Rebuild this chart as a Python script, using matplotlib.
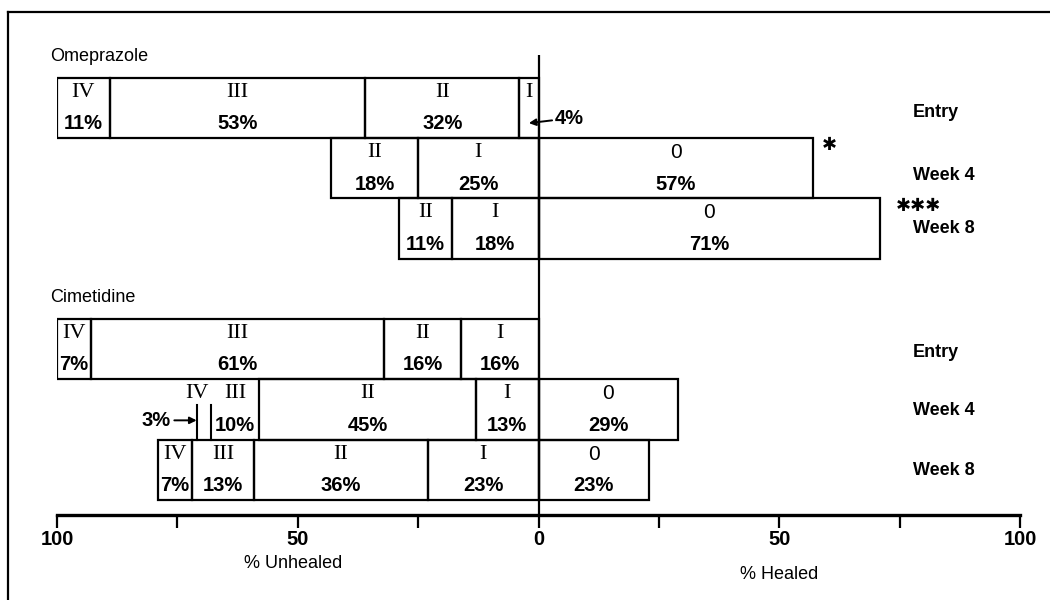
import matplotlib
matplotlib.use("Agg")
import matplotlib.pyplot as plt
from matplotlib.lines import Line2D

# grades of oesophagitis, worst to healed
grades = ["IV", "III", "II", "I", "0"]

# percent of patients per grade
ome_entry = [11, 53, 32, 4, 0]
ome_week4 = [0, 0, 18, 25, 57]
ome_week8 = [0, 0, 11, 18, 71]
cim_entry = [7, 61, 16, 16, 0]
cim_week4 = [3, 10, 45, 13, 29]
cim_week8 = [7, 13, 36, 23, 23]

visits = ["Entry", "Week 4", "Week 8"]
stars = {"Week 4": "\u2731", "Week 8": "\u2731\u2731\u2731"}

SANS = ["Liberation Sans", "DejaVu Sans"]
SERIF = ["Liberation Serif", "DejaVu Serif"]

fig = plt.figure(figsize=(10.5, 6), dpi=100)
ax = fig.add_axes([57 / 1050, 85 / 600, 963 / 1050, 460 / 600])
ax.set_xlim(-100, 100)
ax.set_ylim(6.75, -0.88)

groups = [
    ("Omeprazole", 0, [ome_entry, ome_week4, ome_week8]),
    ("Cimetidine", 4, [cim_entry, cim_week4, cim_week8]),
]
label_dy = {"Omeprazole": [0.07, 0.12, 0.0], "Cimetidine": [0.05, 0.02, 0.02]}

for name, start, rows in groups:
    ax.text(-101.5, start - 0.86, name, ha="left", va="center", fontsize=13,
            family=SANS, clip_on=False)
    for i, vals in enumerate(rows):
        row = start + i
        left = -sum(vals[:4])
        open_tail = name == "Cimetidine" and visits[i] == "Week 4"
        for g, v in zip(grades, vals):
            if v == 0:
                continue
            open_seg = open_tail and g in ("IV", "III")
            if open_seg:
                # only partial dividers in the original
                ax.plot([left, left], [row - 0.07, row + 0.5], color="black", lw=1.5)
            else:
                ax.barh(row, v, left=left, height=1, fill=False,
                        edgecolor="black", lw=1.6)
            cx = left + v / 2
            if open_tail and g == "IV":
                cx = left
            if g == "0":
                ax.text(cx, row - 0.26, g, ha="center", va="center", fontsize=15,
                        family=SANS)
            else:
                ax.text(cx, row - 0.26, g, ha="center", va="center", fontsize=16,
                        family=SERIF)
            pct = f"{v}%"
            if name == "Omeprazole" and visits[i] == "Entry" and g == "I":
                ax.annotate(pct, xy=(-2, row + 0.25), xytext=(3.4, row + 0.17),
                            ha="left", va="center", fontsize=14.5, fontweight="bold",
                            family=SANS,
                            arrowprops=dict(arrowstyle="-|>", color="black", lw=1.4,
                                            shrinkA=0, shrinkB=0, mutation_scale=10))
            elif open_tail and g == "IV":
                ax.annotate(pct, xy=(left, row + 0.18), xytext=(-76.5, row + 0.18),
                            ha="right", va="center", fontsize=14.5, fontweight="bold",
                            family=SANS,
                            arrowprops=dict(arrowstyle="-|>", color="black", lw=1.4,
                                            shrinkA=1, shrinkB=0, mutation_scale=10))
            else:
                ax.text(cx, row + 0.26, pct, ha="center", va="center", fontsize=14.5,
                        fontweight="bold", family=SANS)
            left += v
        ax.text(77.8, row + label_dy[name][i], visits[i], ha="left", va="center",
                fontsize=13, fontweight="bold", family=SANS)
        if name == "Omeprazole" and visits[i] in stars:
            gap = 1.8 if visits[i] == "Week 4" else 3.2
            ax.text(vals[4] + gap, row - 0.38, stars[visits[i]], ha="left", va="center",
                    fontsize=13, fontweight="bold", family=["DejaVu Sans"])

# centre line
ax.axvline(0, color="black", lw=1.6)

for s in ["top", "left", "right"]:
    ax.spines[s].set_visible(False)
ax.spines["bottom"].set_linewidth(2.4)
ax.set_yticks([])
ax.set_xticks(range(-100, 101, 25))
ax.set_xticklabels(["100", "", "50", "", "0", "", "50", "", "100"],
                   fontsize=14.5, fontweight="bold", family=SANS)
ax.tick_params(axis="x", length=9, width=1.6, direction="out", pad=2)

ax.text(-51, 7.55, "% Unhealed", ha="center", va="center", fontsize=13,
        family=SANS, clip_on=False)
ax.text(50, 7.74, "% Healed", ha="center", va="center", fontsize=13,
        family=SANS, clip_on=False)

# frame of the original figure
fig.add_artist(Line2D([8 / 1050, 1], [1 - 12 / 600, 1 - 12 / 600],
                      transform=fig.transFigure, color="black", lw=1.6))
fig.add_artist(Line2D([8 / 1050, 8 / 1050], [0, 1 - 12 / 600],
                      transform=fig.transFigure, color="black", lw=1.6))

fig.savefig("out.png", dpi=100, facecolor="white")
